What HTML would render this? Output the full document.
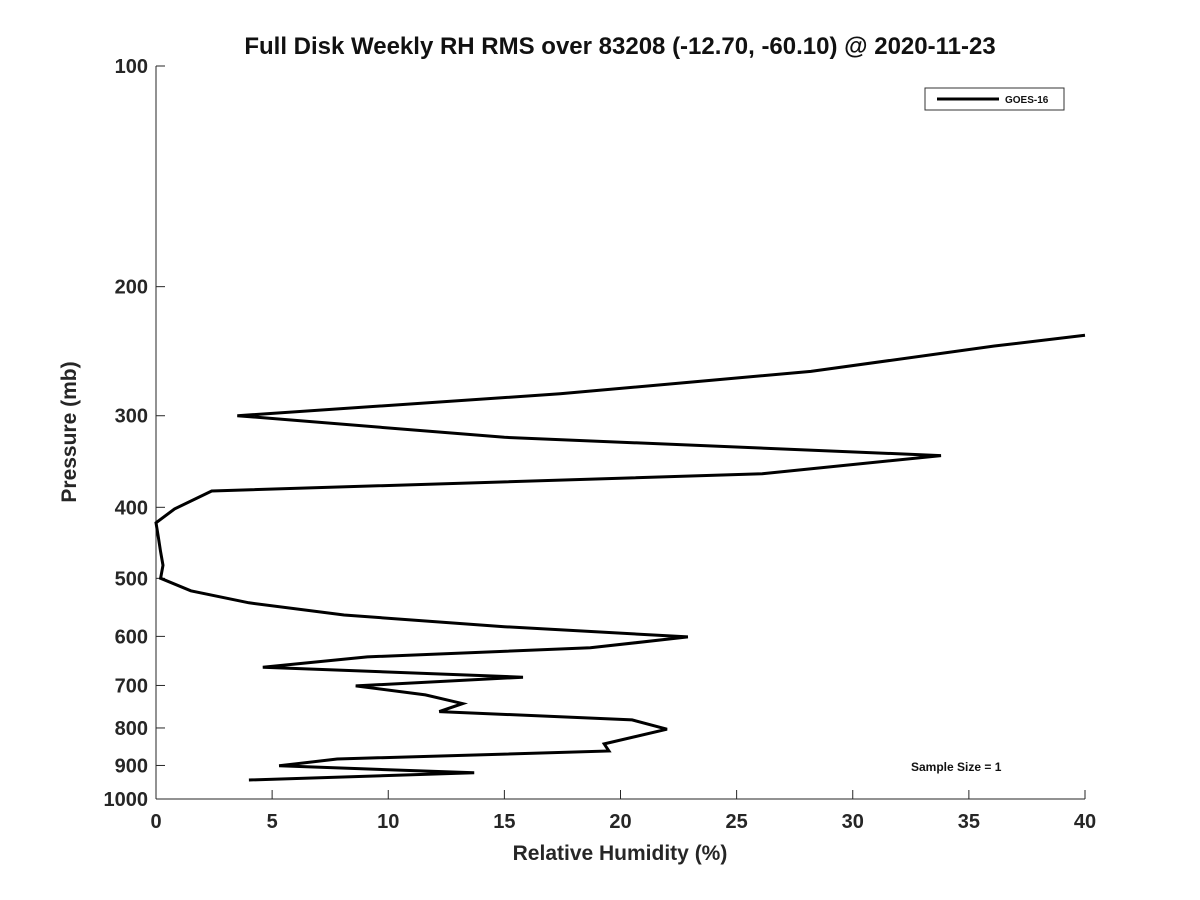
<!DOCTYPE html>
<html><head><meta charset="utf-8"><style>
body{margin:0;background:#fff;}
svg{display:block;font-family:"Liberation Sans","DejaVu Sans",sans-serif;}
</style></head><body>
<svg id="chart" width="1200" height="900">
<text x="620" y="54" text-anchor="middle" font-size="24" font-weight="bold" fill="#111">Full Disk Weekly RH RMS over 83208 (-12.70, -60.10) @ 2020-11-23</text>
<g id="axes"></g>
<g id="series"></g>
<text x="620" y="860" text-anchor="middle" font-size="21" font-weight="bold" fill="#262626">Relative Humidity (%)</text>
<text transform="translate(76,432) rotate(-90)" text-anchor="middle" font-size="21" font-weight="bold" fill="#262626">Pressure (mb)</text>
<g>
<rect x="925" y="88" width="139" height="22" fill="#fff" stroke="#333" stroke-width="1"/>
<line x1="937" y1="99" x2="999" y2="99" stroke="#000" stroke-width="3"/>
<text x="1005" y="103" font-size="10" font-weight="bold" fill="#111">GOES-16</text>
</g>
<text x="911" y="771" font-size="12" font-weight="bold" fill="#111">Sample Size = 1</text>
</svg>
<script>
const rhValues=[40,36.1,28.2,17.4,3.5,15.0,33.8,26.1,2.4,0.8,0,0.1,0.2,0.3,0.2,1.5,4.0,8.1,15.0,22.9,18.7,9.1,4.6,15.8,8.6,11.6,13.2,12.2,20.5,22.0,19.3,19.5,7.8,5.3,13.7,4.0];
const pressureValues=[233,241,261,280,300,321,340,360,380,402,420,439,460,480,500,520,540,561,582,601,622,640,661,682,701,721,741,760,780,803,841,860,882,901,921,942];
const xTicks=[0,5,10,15,20,25,30,35,40];
const yTicks=[100,200,300,400,500,600,700,800,900,1000];
const NS="http://www.w3.org/2000/svg";
const x0=156,x1=1085,yTop=66,yBot=799;
function xs(v){return x0+(v-0)/40*(x1-x0);}
function ys(p){return yTop+(Math.log10(p)-2)*(yBot-yTop);}
const axes=document.getElementById('axes');
function mk(t,a,parent){const e=document.createElementNS(NS,t);for(const k in a)e.setAttribute(k,a[k]);parent.appendChild(e);return e;}
let l=mk('line',{x1:x0,y1:yTop,x2:x0,y2:yBot,stroke:'#262626','stroke-width':1},axes);


l=mk('line',{x1:x0,y1:yBot,x2:x1,y2:yBot,stroke:'#262626','stroke-width':1},axes);


xTicks.forEach(v=>{const x=xs(v);
 const t=mk('line',{x1:x,y1:yBot,x2:x,y2:yBot-9,stroke:'#262626'},axes);
 
 
 const tx=mk('text',{x:x,y:yBot+29,'text-anchor':'middle','font-size':20,'font-weight':'bold',fill:'#262626'},axes);
 tx.textContent=v;
 
 
});
yTicks.forEach(v=>{const y=ys(v);
 const t=mk('line',{x1:x0,y1:y,x2:x0+9,y2:y,stroke:'#262626'},axes);
 
 
 const tx=mk('text',{x:x0-8,y:y+7,'text-anchor':'end','font-size':20,'font-weight':'bold',fill:'#262626'},axes);
 tx.textContent=v;
 
 
});
const pts=rhValues.map((v,i)=>xs(v).toFixed(1)+','+ys(pressureValues[i]).toFixed(1)).join(' ');
const pl=mk('polyline',{points:pts,fill:'none',stroke:'#000','stroke-width':3,'stroke-linejoin':'miter'},document.getElementById('series'));


</script>
</body></html>
